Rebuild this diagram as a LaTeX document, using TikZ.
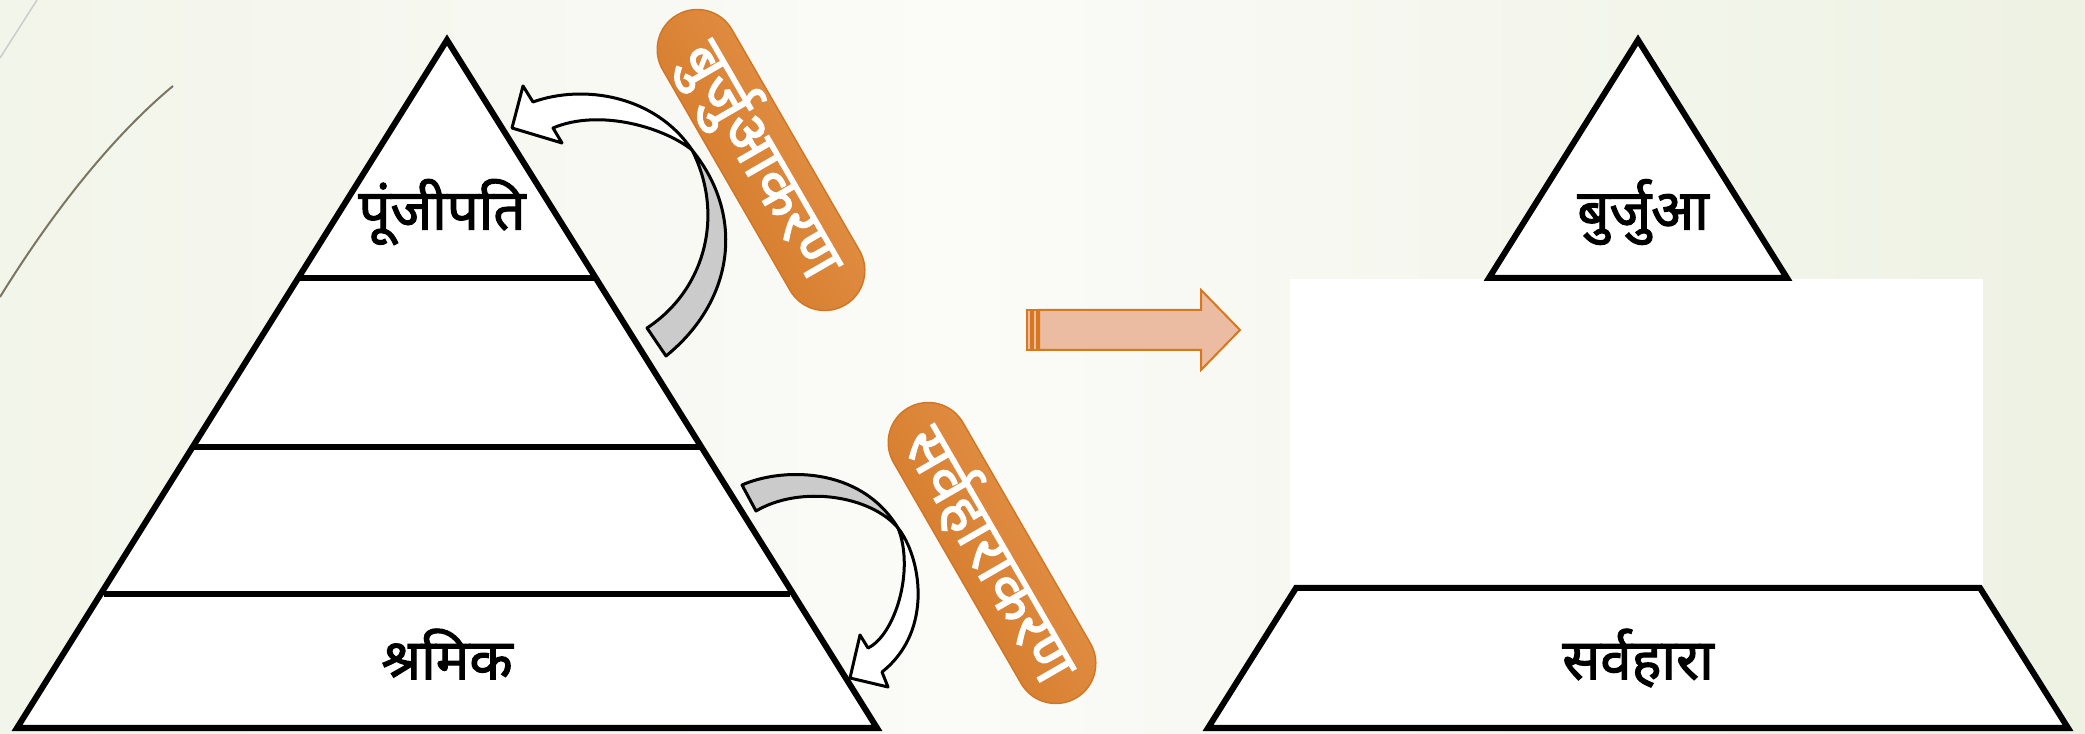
\documentclass[tikz,border=0pt]{standalone}
\usepackage{fontspec}
\newfontfamily\hindi[Script=Devanagari, AutoFakeBold=2]{Noto Sans}
\usetikzlibrary{shapes.misc}

\definecolor{bgleft}{HTML}{E4EBD3}
\definecolor{bgleftin}{HTML}{EEF2E3}
\definecolor{bgmid}{HTML}{FBFBF8}
\definecolor{bgrightin}{HTML}{EAEFDD}
\definecolor{bgright}{HTML}{E0E8CC}
\definecolor{pilldark}{HTML}{D27522}
\definecolor{pilllight}{HTML}{E5964F}
\definecolor{shaftfill}{HTML}{EBBBA2}
\definecolor{shaftline}{HTML}{D7781F}
\definecolor{bandgray}{HTML}{CBCBCB}
\definecolor{strand}{HTML}{7B7563}

\pgfdeclarehorizontalshading{bgshade}{100bp}{color(0bp)=(bgleft); color(14bp)=(bgleftin);
  color(48bp)=(bgmid); color(82bp)=(bgrightin); color(100bp)=(bgright)}

\tikzset{
  outline/.style={draw=black, line width=0.06cm, line join=miter, fill=white},
  tier/.style={font=\hindi\bfseries\fontsize{16}{19}\selectfont},
  pill/.style={rounded rectangle, minimum width=3.35cm, minimum height=0.8cm,
    inner sep=0pt, rotate=-60, top color=pilllight, bottom color=pilldark,
    shading angle=-60, draw=pilldark, line width=0.4pt, text=white,
    font=\hindi\bfseries\fontsize{17.5}{20}\selectfont},
  curl/.style={draw=black, line width=0.03cm, line join=round},
}

\begin{document}
\begin{tikzpicture}[x=0.01cm, y=-0.01cm]
  \useasboundingbox (0,0) rectangle (2085,734);
  % background
  \fill[shading=bgshade] (0,0) rectangle (2085,734);
  \draw[color=black!20, line width=0.015cm] (0,58) -- (37,0);
  \draw[color=strand, line width=0.02cm] (0,297) .. controls (60,200) and (120,130) .. (173,86);

  % left pyramid
  \coordinate (apexL) at (447,40);
  \filldraw[outline] (apexL) -- (877,728) -- (17,728) -- cycle;
  \draw[outline] (299,278) -- (597,278);
  \draw[outline] (193,447) -- (703,447);
  \draw[outline] (104,594) -- (790,594);
  \node[tier] (capitalist) at (442,212) {पूंजीपति};
  \node[tier] (worker) at (447,654) {श्रमिक};

  % upper curl
  \coordinate (touchA) at (692,150);
  \coordinate (tailA) at (666,356);
  \coordinate (tailA') at (647,328);
  \filldraw[curl, fill=bandgray] (touchA)
    .. controls (745,215) and (735,300) .. (tailA) -- (tailA')
    .. controls (705,290) and (725,215) .. (touchA) -- cycle;
  \filldraw[curl, fill=white] (533,102)
    .. controls (583,84) and (655,95) .. (touchA)
    .. controls (665,128) and (600,108) .. (553,128)
    -- (562,143) -- (512,128) -- (523,86) -- cycle;

  % lower curl
  \coordinate (touchB) at (898,528);
  \coordinate (tailB) at (742,485);
  \coordinate (tailB') at (756,511);
  \filldraw[curl, fill=bandgray] (tailB)
    .. controls (780,468) and (860,465) .. (touchB)
    .. controls (870,495) and (800,485) .. (tailB') -- cycle;
  \filldraw[curl, fill=white] (touchB)
    .. controls (920,555) and (935,630) .. (882,672)
    -- (888,687) -- (850,678) -- (860,635) -- (868,648)
    .. controls (895,635) and (915,570) .. (touchB) -- cycle;

  % labels on the pills
  \node[pill] (rise) at (761,160) {बुर्जुआकरण};
  \node[pill] (fall) at (992,553) {सर्वहाराकरण};

  % block arrow
  \filldraw[draw=shaftline, fill=shaftfill, line width=0.02cm]
    (1039,310) -- (1201,310) -- (1201,290) -- (1240,330) -- (1201,370) -- (1201,350) -- (1039,350) -- cycle;
  \filldraw[draw=shaftline, fill=shaftfill, line width=0.02cm] (1027,310) rectangle (1031,350);
  \filldraw[draw=shaftline, fill=shaftfill, line width=0.02cm] (1033,310) rectangle (1037,350);

  % right pyramid
  \coordinate (apexR) at (1638,40);
  \fill[white] (1290,279) rectangle (1983,588);
  \filldraw[outline] (apexR) -- (1787,278) -- (1489,278) -- cycle;
  \filldraw[outline] (1296,588) -- (1980,588) -- (2068,728) -- (1208,728) -- cycle;
  \node[tier] (bourgeois) at (1643,212) {बुर्जुआ};
  \node[tier] (proletariat) at (1638,658) {सर्वहारा};
\end{tikzpicture}
\end{document}
